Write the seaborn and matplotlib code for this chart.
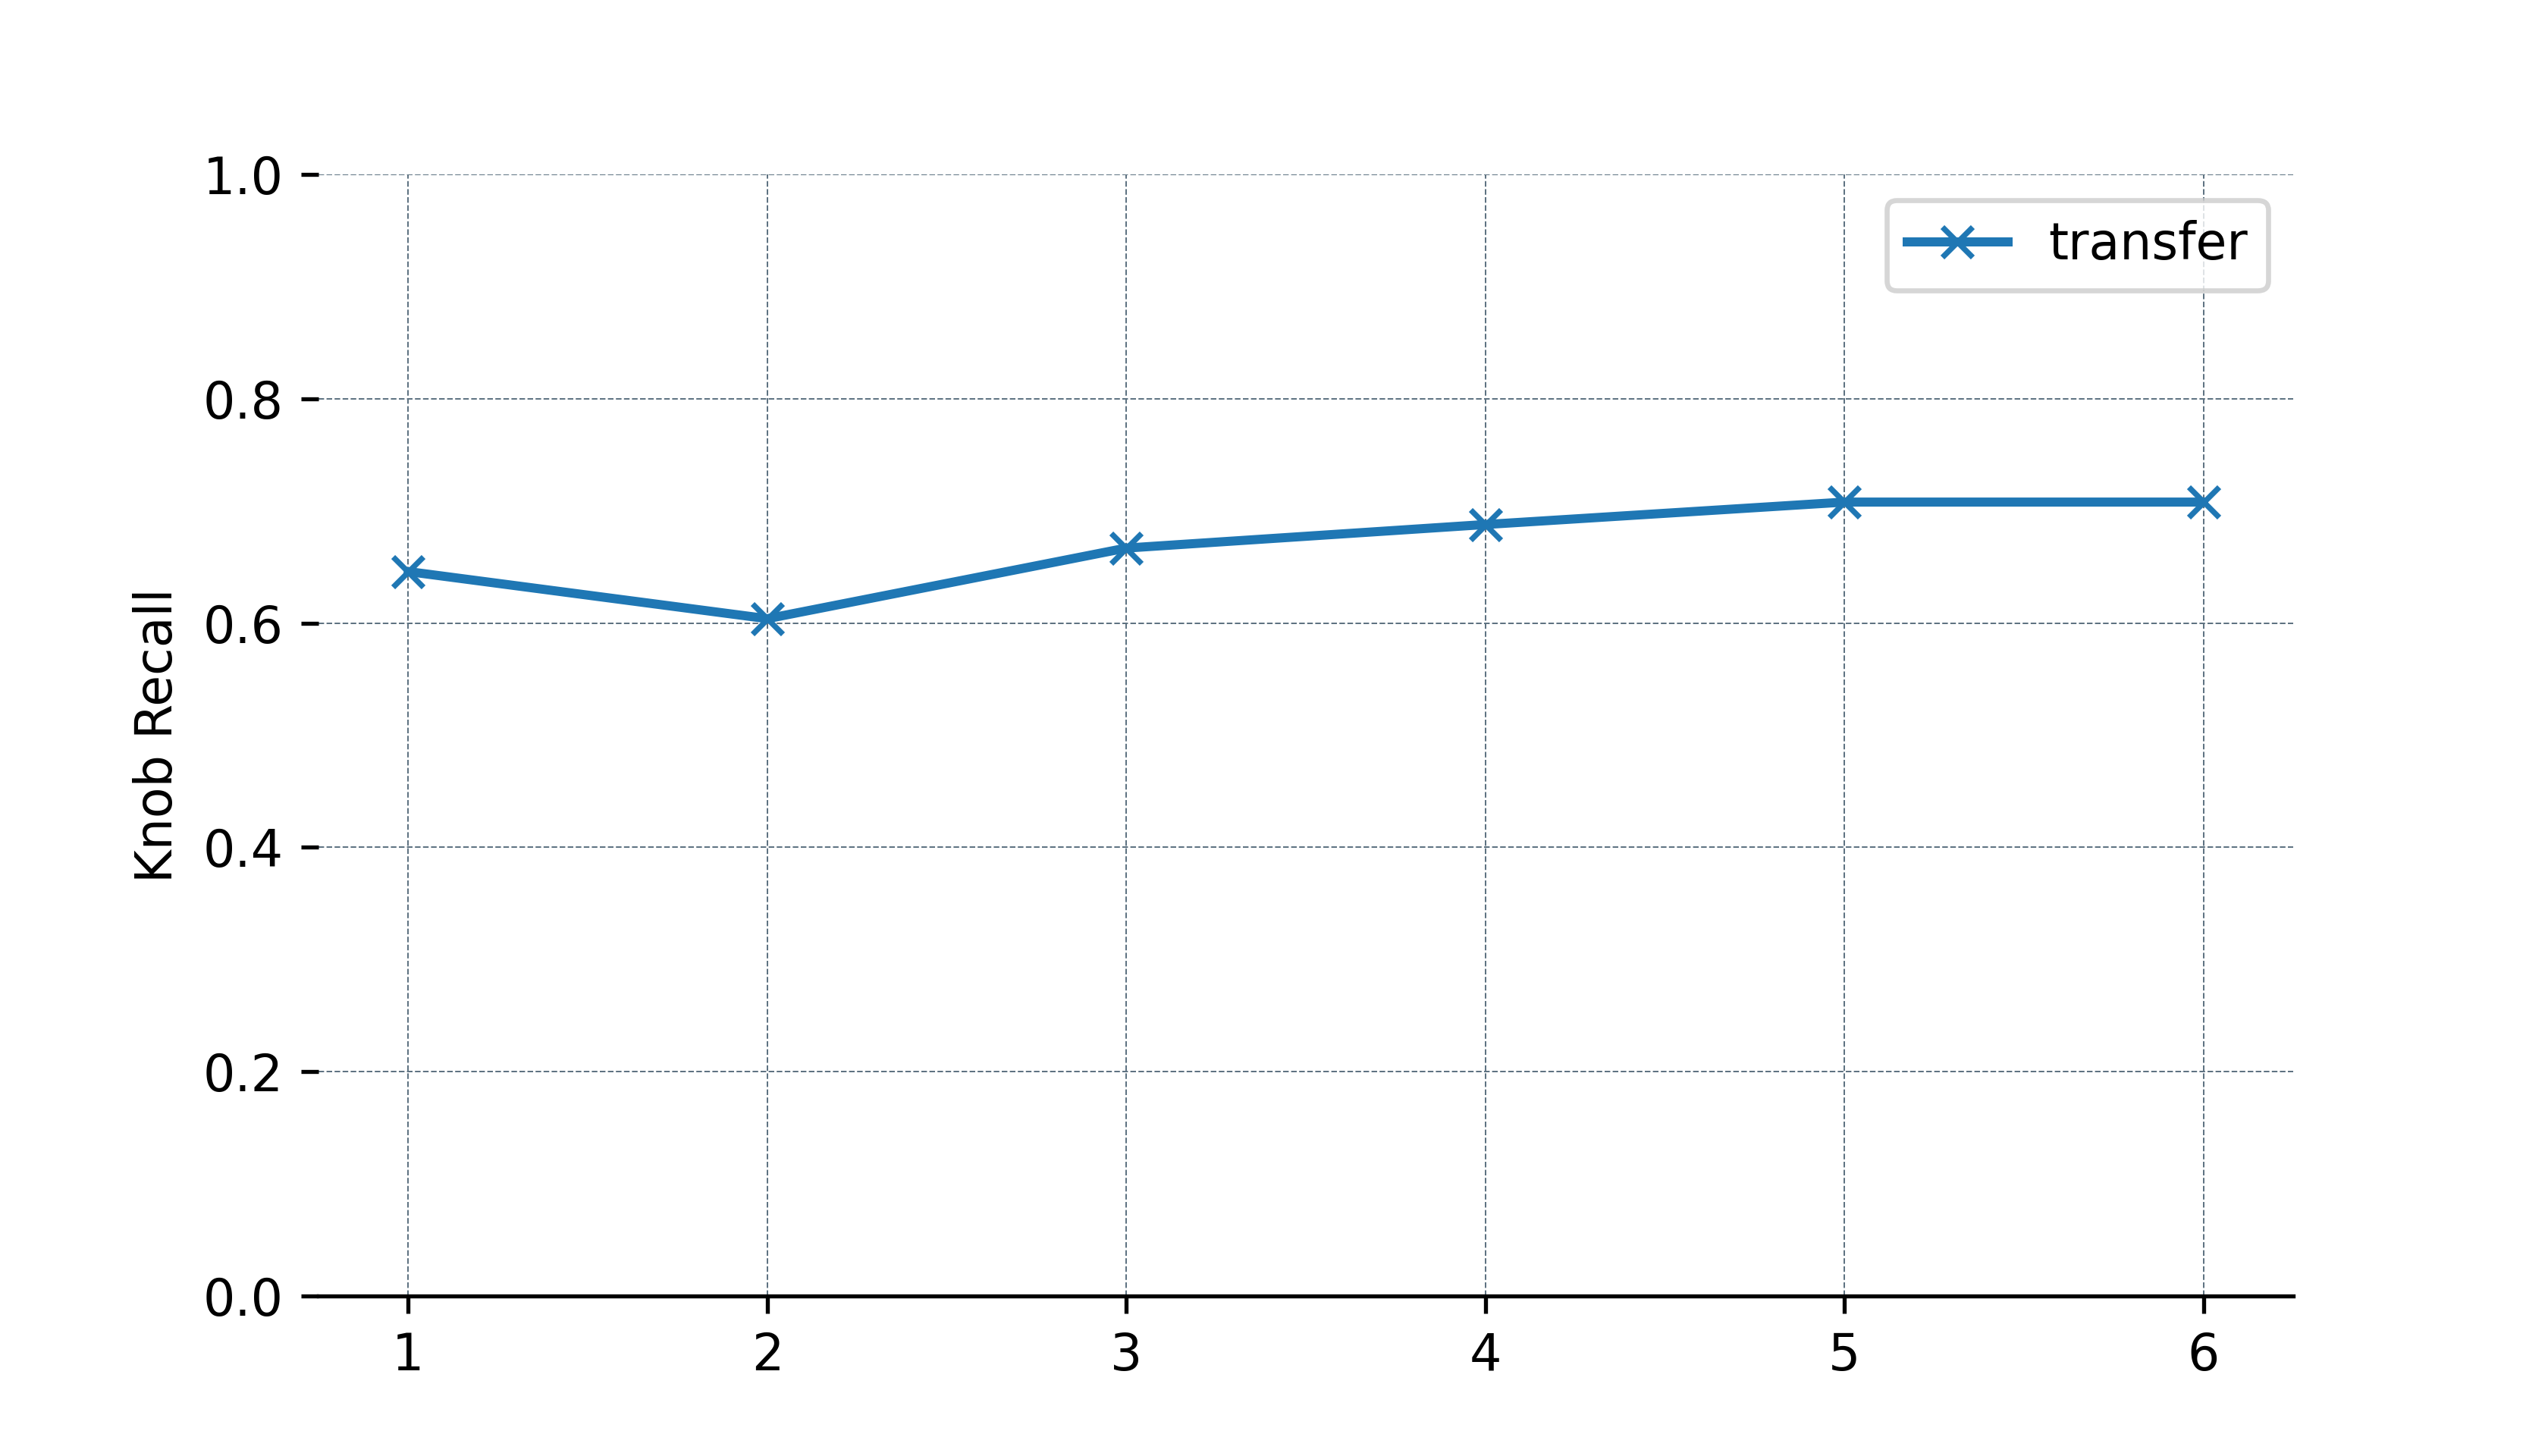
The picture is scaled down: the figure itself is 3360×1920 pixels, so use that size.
import pandas as pd
import matplotlib
matplotlib.use("Agg")
import matplotlib.pyplot as plt
import seaborn as sns

# Data
steps = [1, 2, 3, 4, 5, 6]
recall = [0.646, 0.604, 0.667, 0.688, 0.708, 0.708]
series_name = "transfer"

df = pd.DataFrame({"step": steps, "recall": recall, "method": series_name})

fig, ax = plt.subplots(figsize=(7, 4), dpi=480)
sns.lineplot(data=df, x="step", y="recall", marker="x", color="#1f77b4",
             linewidth=1.8, markersize=6, markeredgewidth=1.1,
             markeredgecolor="#1f77b4", label=series_name, ax=ax)

ax.set_ylim(0, 1.0)
ax.set_xlabel("")
ax.set_ylabel("Knob Recall")
ax.grid(True, linestyle="--", linewidth=0.3, color="#5f7382")
ax.set_axisbelow(True)
for side in ["top", "right", "left"]:
    ax.spines[side].set_visible(False)
ax.legend(loc="upper right")

fig.savefig("out.png", dpi=480)
print("[SUCCESS] Saved out.png")
